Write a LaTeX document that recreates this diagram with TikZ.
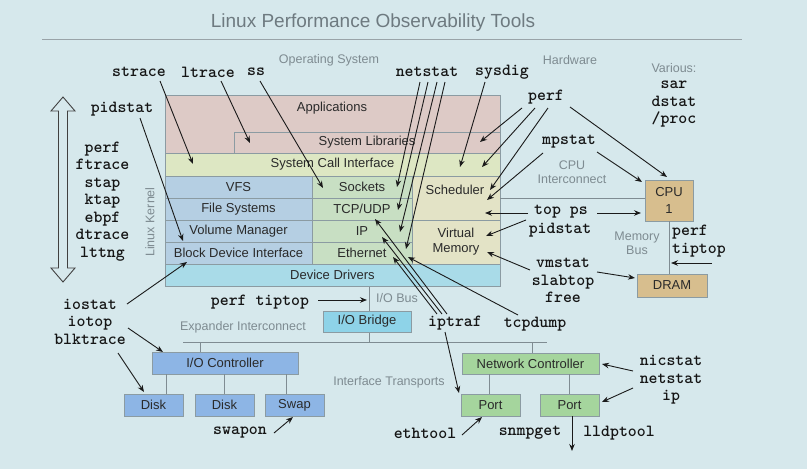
\documentclass[tikz,border=0pt]{standalone}
\usepackage{fontspec}
\setmainfont{Liberation Sans}
\usetikzlibrary{arrows.meta}
\definecolor{cBg}{HTML}{D6E8EC}
\definecolor{cApp}{HTML}{DDCAC6}
\definecolor{cSci}{HTML}{DDE7C3}
\definecolor{cBlu}{HTML}{B5CFE3}
\definecolor{cNet}{HTML}{C8DFC3}
\definecolor{cSch}{HTML}{E3E3C6}
\definecolor{cDd}{HTML}{A9DBE8}
\definecolor{cBr}{HTML}{8ED3E8}
\definecolor{cIo}{HTML}{8DB5E5}
\definecolor{cNc}{HTML}{A5D59D}
\definecolor{cCpu}{HTML}{D7BE8E}
\definecolor{cBord}{HTML}{8B9BA2}
\definecolor{cTxt}{HTML}{2A2A2A}
\definecolor{cGtxt}{HTML}{7E8B91}
\definecolor{cTitle}{HTML}{6E7A80}
\definecolor{cTool}{HTML}{151515}
\definecolor{cArr}{HTML}{1A1A1A}
\definecolor{cConn}{HTML}{7F8C92}
\newcommand\bx[7]{\node[bxs, fill=#6, minimum width={(#4)-(#2)}, minimum height={(#5)-(#3)}] (#1) at ({((#2)+(#4))/2},{((#3)+(#5))/2}) {#7};}
\begin{document}
\begin{tikzpicture}[x=1pt,y=-1pt,
  bxs/.style={draw=cBord, line width=0.6pt, inner sep=0pt, outer sep=0pt, align=center,
    font=\fontsize{13}{15}\selectfont, text=cTxt},
  lbl/.style={font=\fontsize{13}{15}\selectfont, text=cTxt, inner sep=0pt},
  glbl/.style={font=\fontsize{12.5}{14}\selectfont, text=cGtxt, inner sep=0pt, align=center},
  tool/.style={font=\fontsize{17}{17.5}\selectfont\ttfamily\bfseries, text=cTool, inner sep=0pt, align=center},
  arr/.style={draw=cArr, line width=0.9pt, -{Stealth[length=7pt,width=5.5pt]}},
  conn/.style={draw=cConn, line width=1pt}]
\fill[cBg] (0,0) rectangle (807,469);
\useasboundingbox (0,0) rectangle (807,469);

% title
\node[font=\fontsize{19}{22}\selectfont, text=cTitle, inner sep=0pt] (title) at (373,23) {Linux Performance Observability Tools};
\coordinate (tl1) at (42,39);
\coordinate (tl2) at (742,39);
\draw[draw=cConn!80, line width=0.8pt] (tl1) -- (tl2);

% gray labels
\node[glbl] (os) at (329,60) {Operating System};
\node[glbl] (hw) at (570,60) {Hardware};
\node[glbl] (various) at (674,68) {Various:};
\node[glbl] (cpuic) at (572,172) {CPU\\Interconnect};
\node[glbl] (membus) at (637,243.5) {Memory\\Bus};
\node[glbl, rotate=90] (lk) at (150,222) {Linux Kernel};
\node[glbl] (iobus) at (397,298) {I/O Bus};
\node[glbl] (expic) at (243,327) {Expander Interconnect};
\node[glbl] (ift) at (389,382) {Interface Transports};

% big double arrow
\filldraw[fill=cBg, draw=black!75, line width=0.9pt, line join=miter]
  (63,97) -- (75,111) -- (67.5,111) -- (67.5,268) -- (75,268) -- (63,282) -- (51,268)
  -- (58.5,268) -- (58.5,111) -- (51,111) -- cycle;

% bus lines
\coordinate (expL) at (183,342);
\coordinate (expR) at (547,342);
\coordinate (iobT) at (369,286);
\coordinate (iobB) at (369,342);
\draw[conn] (expL) -- (expR);
\draw[conn] (iobT) -- (iobB);

% boxes
\bx{apps}{165}{95}{500}{153}{cApp}{}
\bx{syslib}{234}{132}{500}{153}{cApp}{System Libraries}
\bx{sci}{165}{153}{500}{176}{cSci}{System Call Interface}
\bx{vfs}{165}{176}{312}{198}{cBlu}{VFS}
\bx{fs}{165}{198}{312}{220}{cBlu}{File Systems}
\bx{volm}{165}{220}{312}{242}{cBlu}{Volume Manager}
\bx{bdi}{165}{242}{312}{264}{cBlu}{Block Device Interface}
\bx{sock}{312}{176}{412}{198}{cNet}{Sockets}
\bx{tcp}{312}{198}{412}{220}{cNet}{TCP/UDP}
\bx{ipb}{312}{220}{412}{242}{cNet}{IP}
\bx{eth}{312}{242}{412}{264}{cNet}{Ethernet}
\bx{sched}{412}{176}{500}{220}{cSch}{}
\bx{virt}{412}{220}{500}{264}{cSch}{Virtual\\Memory}
\bx{dd}{165}{264}{500}{286}{cDd}{Device Drivers}
\bx{iobr}{323}{311}{411}{332}{cBr}{I/O Bridge}
\bx{ioctl}{152}{352}{298}{374}{cIo}{I/O Controller}
\bx{disk1}{124}{394}{183}{416}{cIo}{Disk}
\bx{disk2}{195}{394}{254}{416}{cIo}{Disk}
\bx{swap}{265}{394}{324}{416}{cIo}{Swap}
\bx{nc}{462}{353}{599}{374}{cNc}{Network Controller}
\bx{port1}{461}{394}{520}{416}{cNc}{Port}
\bx{port2}{540}{394}{599}{416}{cNc}{Port}
\bx{cpu}{645}{180}{693}{221}{cCpu}{CPU\\[2pt]1}
\bx{dram}{637}{274}{707}{297}{cCpu}{DRAM}
\node[lbl] (appslbl) at (332,108) {Applications};
\node[lbl] (schedlbl) at (455,190) {Scheduler};

% connectors
\draw[conn] (sched.east) -- (sched.east -| cpu.west);
\draw[conn] (cpu.south) -- (cpu.south |- dram.north);
\draw[conn] ([xshift=-25pt]ioctl.north) -- ([xshift=-25pt]ioctl.north |- expL);
\draw[conn] ([xshift=1.5pt]nc.north) -- ([xshift=1.5pt]nc.north |- expL);
\draw[conn] ([xshift=12.5pt]disk1.north) -- ([xshift=12.5pt]disk1.north |- ioctl.south);
\draw[conn] (disk2.north) -- (disk2.north |- ioctl.south);
\draw[conn] ([xshift=-8.5pt]swap.north) -- ([xshift=-8.5pt]swap.north |- ioctl.south);
\draw[conn] ([xshift=-1.5pt]port1.north) -- ([xshift=-1.5pt]port1.north |- nc.south);
\draw[conn] (port2.north) -- (port2.north |- nc.south);

% tools
\node[tool] (strace) at (139,72) {strace};
\node[tool] (ltrace) at (208,72) {ltrace};
\node[tool] (ss) at (256,72) {ss};
\node[tool] (netstat) at (427,72) {netstat};
\node[tool] (sysdig) at (502,72) {sysdig};
\node[tool] (pidstat) at (122,109) {pidstat};
\node[tool] (ktools) at (102.5,201.5) {perf\\ftrace\\stap\\ktap\\ebpf\\dtrace\\lttng};
\node[tool] (perf) at (546,97) {perf};
\node[tool] (mpstat) at (569,142) {mpstat};
\node[tool] (sar) at (674,104.5) {sar\\dstat\\/proc};
\node[tool] (topps) at (561,212) {top ps};
\node[tool] (pidstat2) at (560,230) {pidstat};
\node[tool] (vmstat) at (563,280.5) {vmstat\\slabtop\\free};
\node[tool, align=left, anchor=west] (perfmem) at (672,241) {perf\\tiptop};
\node[tool] (iostat) at (90,321.5) {iostat\\iotop\\blktrace};
\node[tool] (perfio) at (260,302) {perf tiptop};
\node[tool] (swapon) at (240,433) {swapon};
\node[tool] (iptraf) at (455,323) {iptraf};
\node[tool] (tcpdump) at (535,324) {tcpdump};
\node[tool] (nicstat) at (671,380) {nicstat\\netstat\\ip};
\node[tool] (ethtool) at (425,433) {ethtool};
\node[tool] (snmpget) at (530,433) {snmpget};
\node[tool] (lldptool) at (619,433) {lldptool};

% arrow endpoints
\coordinate (s1) at (160,81);  \coordinate (e1) at (193,164);
\coordinate (s2) at (221,81);  \coordinate (e2) at (250,143);
\coordinate (s3) at (260,81);  \coordinate (e3) at (323,188);
\coordinate (s4) at (140,118); \coordinate (e4) at (183,241);
\coordinate (s5) at (420,82);  \coordinate (e5) at (397,187);
\coordinate (s6) at (428,82);  \coordinate (e6) at (398,210);
\coordinate (s7) at (437,82);  \coordinate (e7) at (400,232);
\coordinate (s8) at (445,82);  \coordinate (e8) at (406,249);
\coordinate (s9) at (485,82);  \coordinate (e9) at (460,167);
\coordinate (s10) at (522,108); \coordinate (e10) at (480,142);
\coordinate (s11) at (535,108); \coordinate (e11) at (482,167);
\coordinate (s12) at (548,108); \coordinate (e12) at (490,190);
\coordinate (s13) at (570,107); \coordinate (e13) at (667,177);
\coordinate (s14) at (543,153); \coordinate (e14) at (487,200);
\coordinate (s15) at (597,152); \coordinate (e15) at (642,182);
\coordinate (s16) at (528,213); \coordinate (e16) at (485,213);
\coordinate (s17) at (597,213); \coordinate (e17) at (641,213);
\coordinate (s18) at (526,220); \coordinate (e18) at (486,236);
\coordinate (s19) at (530,270); \coordinate (e19) at (487,252);
\coordinate (s20) at (597,272); \coordinate (e20) at (635,278);
\coordinate (s21) at (712,263); \coordinate (e21) at (671,263);
\coordinate (s22) at (127,304); \coordinate (e22) at (187,262);
\coordinate (s23) at (318,300); \coordinate (e23) at (367,300);
\coordinate (s24) at (128,328); \coordinate (e24) at (163,352);
\coordinate (s25) at (118,353); \coordinate (e25) at (144,392);
\coordinate (s26) at (274,433); \coordinate (e26) at (293,417);
\coordinate (s27) at (447,314); \coordinate (e27) at (375,219);
\coordinate (s28) at (442,314); \coordinate (e28) at (382,237);
\coordinate (s29) at (437,314); \coordinate (e29) at (393,257);
\coordinate (s30) at (518,315); \coordinate (e30) at (408,257);
\coordinate (s31) at (445,332); \coordinate (e31) at (459,393);
\coordinate (s32) at (633,371); \coordinate (e32) at (602,364);
\coordinate (s33) at (633,388); \coordinate (e33) at (602,402);
\coordinate (s34) at (462,435); \coordinate (e34) at (482,417);
\coordinate (e35) at (572,451);

\foreach \i in {1,...,34} { \draw[arr] (s\i) -- (e\i); }
\draw[arr] (port2.south -| e35) -- (e35);
\end{tikzpicture}
\end{document}
